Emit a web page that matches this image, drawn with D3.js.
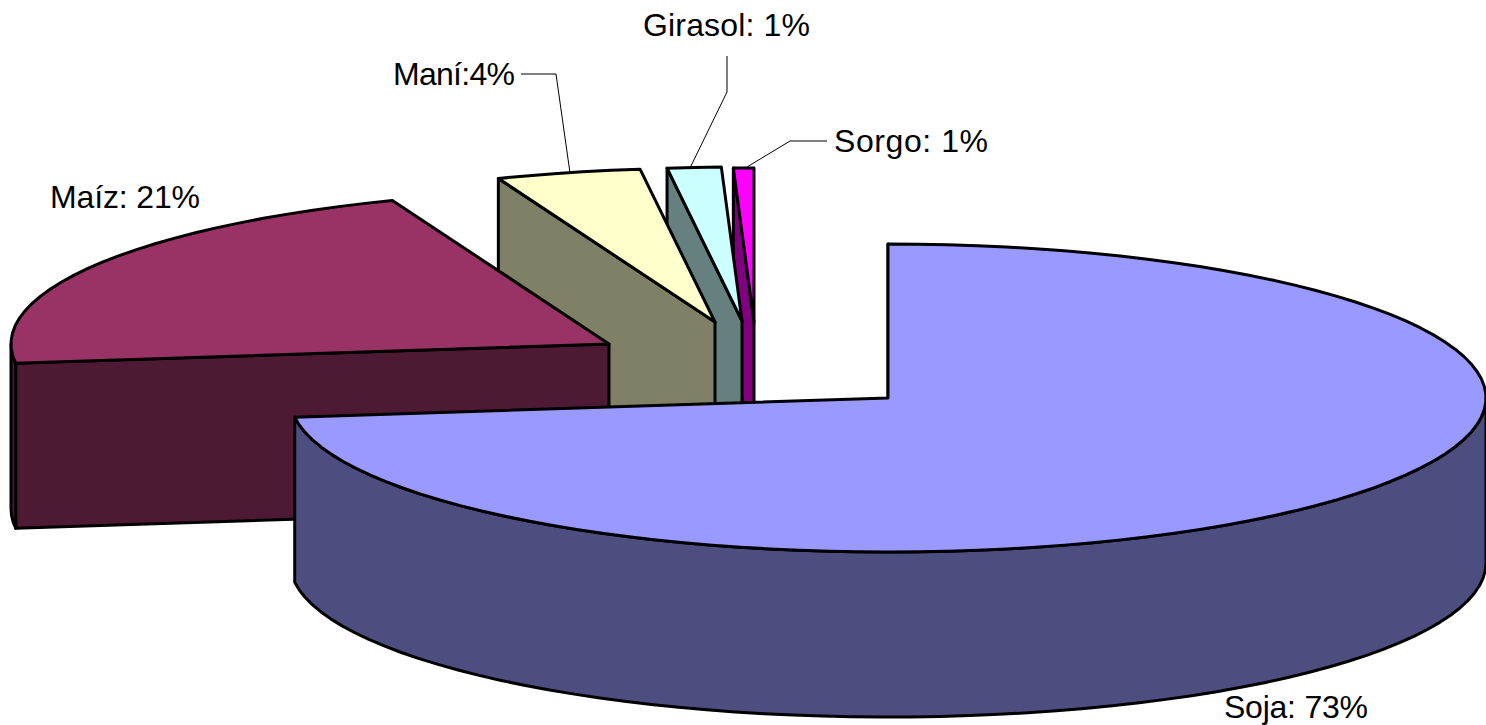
<!DOCTYPE html>
<html>
<head>
<meta charset="utf-8">
<script src="https://cdn.jsdelivr.net/npm/d3@7"></script>
<style>
  html, body { margin: 0; padding: 0; background: #fff; overflow: hidden; }
  text { font-family: "Liberation Sans", Arial, sans-serif; font-size: 32px; fill: #000; }
</style>
</head>
<body>
<div id="chart"></div>
<script>
// Data
const categories = ["Soja", "Maíz", "Maní", "Girasol", "Sorgo"];
const shares = [73, 21.1, 3.9, 1.45, 0.55]; // drawn sizes of the slices
const labels = ["Soja: 73%", "Maíz: 21%", "Maní:4%", "Girasol: 1%", "Sorgo: 1%"];

// Colours
const topColors = ["#9999ff", "#993366", "#ffffcc", "#ccffff", "#ff00ff"];
const sideColors = ["#4d4d80", "#4d1933", "#808066", "#668080", "#800080"];

// Layout: where each exploded slice has its apex, and where its label goes
const apexX = [888, 609, 715, 742, 754];
const apexY = [398, 344, 322, 321, 322];
const labelX = [1224, 50, 393, 643, 834];
const labelY = [718, 208, 85, 36, 152];
const labelW = [144, 150, 122, 167, 154];
const leaders = [
  null,
  null,
  [[521, 74], [556, 74], [570, 173]],
  [[727, 56], [727, 92], [690, 168]],
  [[827, 141], [790, 141], [747, 167]]
];

const w = 1486, h = 725;
const rx = 598, ry = 154, depth = 165;

const svg = d3.select("#chart").append("svg")
  .attr("width", w)
  .attr("height", h);

const pie = d3.pie().sort(null);
const arcs = pie(shares);

// Flatten the unit circle to the tilted ellipse
const xScale = d3.scaleLinear().domain([-1, 1]).range([-rx, rx]);
const yScale = d3.scaleLinear().domain([-1, 1]).range([-ry, ry]);
const line = d3.line();

function rim(i, a) {
  const p = d3.pointRadial(a, 1);
  return [apexX[i] + xScale(p[0]), apexY[i] + yScale(p[1])];
}

function sweep(a0, a1) {
  const n = Math.max(2, Math.ceil((a1 - a0) / 0.05));
  return d3.range(n + 1).map(function(k) { return a0 + (a1 - a0) * k / n; });
}

function drop(p) { return [p[0], p[1] + depth]; }

function draw(d, color, width) {
  svg.append("path")
    .attr("d", line(d) + "Z")
    .attr("fill", color)
    .attr("stroke", "#000")
    .attr("stroke-width", width)
    .attr("stroke-linejoin", "round");
}

// Back slices first, Soja goes on top of everything
d3.range(arcs.length).reverse().forEach(function(i) {
  const a = arcs[i];
  const apex = [apexX[i], apexY[i]];

  // cut face at the start of the slice
  const s = rim(i, a.startAngle);
  draw([apex, s, drop(s), drop(apex)], sideColors[i], 3);

  // outer wall, only the part that faces the viewer
  const from = Math.max(a.startAngle, Math.PI / 2);
  const to = Math.min(a.endAngle, Math.PI * 1.5);
  if (to > from) {
    const edge = sweep(from, to).map(function(t) { return rim(i, t); });
    draw(edge.concat(edge.map(drop).reverse()), sideColors[i], 3);
  }

  // top surface
  const top = sweep(a.startAngle, a.endAngle).map(function(t) { return rim(i, t); });
  draw([apex].concat(top), topColors[i], 3);
});

// Leader lines
leaders.forEach(function(l) {
  if (!l) return;
  svg.append("path")
    .attr("d", line(l))
    .attr("fill", "none")
    .attr("stroke", "#000")
    .attr("stroke-width", 1);
});

// Labels
svg.selectAll("text.label")
  .data(labels)
  .enter()
  .append("text")
  .attr("class", "label")
  .attr("x", function(d, i) { return labelX[i]; })
  .attr("y", function(d, i) { return labelY[i]; })
  .attr("textLength", function(d, i) { return labelW[i]; })
  .text(function(d) { return d; });
</script>
</body>
</html>
